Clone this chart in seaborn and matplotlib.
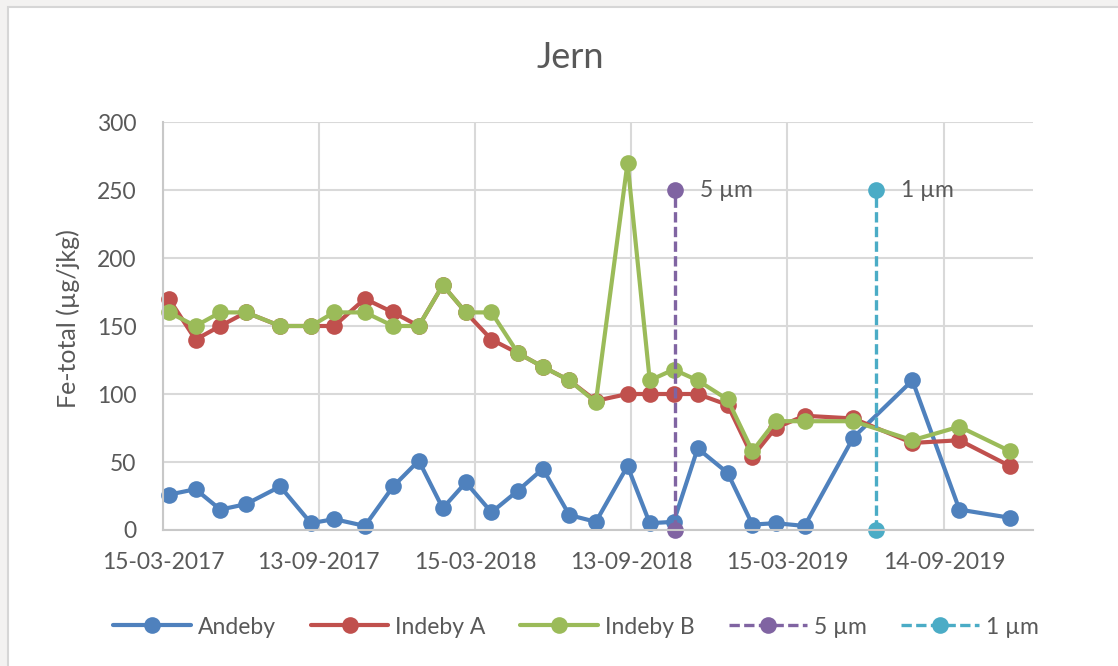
import matplotlib
matplotlib.use('Agg')
import matplotlib.pyplot as plt
import matplotlib.dates as mdates
from matplotlib.patches import Rectangle
import seaborn as sns
import pandas as pd

# Data
datoer = pd.to_datetime([
    '2017-03-22', '2017-04-22', '2017-05-21', '2017-06-20', '2017-07-30', '2017-09-04',
    '2017-10-01', '2017-11-06', '2017-12-09', '2018-01-08', '2018-02-05', '2018-03-04',
    '2018-04-03', '2018-05-04', '2018-06-02', '2018-07-03', '2018-08-03', '2018-09-09',
    '2018-10-05', '2018-11-02', '2018-11-30', '2019-01-04', '2019-02-02', '2019-03-01',
    '2019-04-04', '2019-05-31', '2019-08-08', '2019-10-02', '2019-11-30'])
andeby = [26, 30, 15, 19, 32, 5, 8, 3, 32, 51, 16, 35, 13, 29, 45, 11, 6, 47,
          5, 6, 60, 42, 4, 5, 3, 68, 110, 15, 9]
indeby_a = [170, 140, 150, 160, 150, 150, 150, 170, 160, 150, 180, 160, 140, 130, 120, 110, 95, 100,
            100, 100, 100, 92, 54, 75, 84, 82, 64, 66, 47]
indeby_b = [160, 150, 160, 160, 150, 150, 160, 160, 150, 150, 180, 160, 160, 130, 120, 110, 94, 270,
            110, 118, 110, 96, 58, 80, 80, 80, 66, 76, 58]

filter_navn = ['5 µm', '1 µm']
filter_dato = pd.to_datetime(['2018-11-04', '2019-06-27'])
filter_y = [0, 250]

x_ticks = pd.to_datetime(['2017-03-15', '2017-09-13', '2018-03-15',
                          '2018-09-13', '2019-03-15', '2019-09-14'])
y_ticks = [0, 50, 100, 150, 200, 250, 300]

farger = {'Andeby': '#4F81BD', 'Indeby A': '#C0504D', 'Indeby B': '#9BBB59',
          '5 µm': '#8064A2', '1 µm': '#4BACC6'}
tekst_farge = '#595959'

# Setup
sns.set_theme(style='white')
plt.rcParams['font.family'] = ['Lato', 'DejaVu Sans']

fig = plt.figure(figsize=(11.18, 6.66), dpi=100)
fig.patch.set_facecolor('#F3F2F1')
fig.add_artist(Rectangle((8 / 1118, -0.02), 1.02, 1.02 - 7 / 666, transform=fig.transFigure,
                         facecolor='white', edgecolor='#D6D6D6', linewidth=1.5, zorder=-1))

ax = fig.add_axes([163 / 1118, 1 - 530 / 666, 870 / 1118, 408 / 666])
ax.set_facecolor('white')

for navn, verdier in [('Andeby', andeby), ('Indeby A', indeby_a), ('Indeby B', indeby_b)]:
    sns.lineplot(x=datoer, y=verdier, ax=ax, color=farger[navn], label=navn,
                 estimator=None, sort=False, linewidth=3.0, clip_on=False,
                 marker='o', markersize=12, markeredgewidth=0)

for navn, dato in zip(filter_navn, filter_dato):
    sns.lineplot(x=[dato, dato], y=filter_y, ax=ax, color=farger[navn], label=navn,
                 estimator=None, sort=False, linewidth=2.4, linestyle=(0, (3.1, 1.3)),
                 clip_on=False, marker='o', markersize=12, markeredgewidth=0)
    ax.annotate(navn, xy=(dato, filter_y[1]), xytext=(18, 0), textcoords='offset points',
                ha='left', va='center', fontsize=16.5, color=tekst_farge)

ax.set_xlim(pd.Timestamp('2017-03-15'), pd.Timestamp('2019-12-27'))
ax.set_ylim(0, 300)
ax.set_xticks(x_ticks)
ax.set_yticks(y_ticks)
ax.xaxis.set_major_formatter(mdates.DateFormatter('%d-%m-%Y'))
ax.grid(True, color='#D9D9D9', linewidth=1.5)
ax.set_axisbelow(True)
ax.tick_params(axis='both', length=0, labelsize=16.5, colors=tekst_farge)
ax.tick_params(axis='y', pad=19)
ax.tick_params(axis='x', pad=16)
for side in ['top', 'right']:
    ax.spines[side].set_visible(False)
for side in ['left', 'bottom']:
    ax.spines[side].set_color('#C8C8C8')
    ax.spines[side].set_linewidth(1.5)
ax.set_xlabel('')
ax.set_ylabel('')

handles, labels = ax.get_legend_handles_labels()
ax.get_legend().remove()
fig.legend(handles, labels, loc='center', bbox_to_anchor=(576 / 1118, 1 - 627 / 666),
           ncol=5, frameon=False, fontsize=16.5, handlelength=3.4, handletextpad=0.3,
           columnspacing=1.5, labelcolor=tekst_farge)

fig.text(570 / 1118, 1 - 58 / 666, 'Jern', ha='center', va='center', fontsize=26, color=tekst_farge)
fig.text(68 / 1118, 1 - 319 / 666, 'Fe-total (µg/jkg)', ha='center', va='center',
         rotation=90, fontsize=18, color=tekst_farge)

fig.savefig('out.png', dpi=100, facecolor=fig.get_facecolor())
